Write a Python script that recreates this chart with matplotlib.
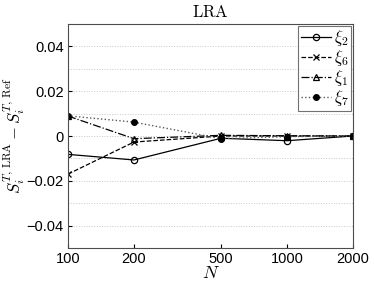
import numpy as np
import matplotlib
matplotlib.use("Agg")
from matplotlib import pyplot as plt

matplotlib.rcParams['font.family'] = ['Liberation Sans', 'DejaVu Sans']
matplotlib.rcParams['mathtext.fontset'] = 'cm'

N = [100, 200, 500, 1000, 2000]
xi2 = [-0.0082, -0.0107, -0.0010, -0.0021, 0.0]
xi6 = [-0.0170, -0.0027, 0.0000, 0.0000, 0.0]
xi1 = [0.0089, -0.0012, 0.0003, 0.0001, 0.0]
xi7 = [0.0090, 0.0062, -0.0012, -0.0003, 0.0]

fig = plt.figure(figsize=(3.74, 2.83), dpi=100)
ax = fig.add_axes([68/374, 1-248/283, 285/374, 224/283])

ax.plot(N, xi2, '-', color='k', lw=0.9, marker='o', ms=4.5, mfc='none', mew=0.9, label=r'$\xi_2$')
ax.plot(N, xi6, '--', color='k', lw=0.9, marker='x', ms=4.5, mew=0.9, label=r'$\xi_6$')
ax.plot(N, xi1, '-.', color='k', lw=0.9, marker='^', ms=4.5, mfc='none', mew=0.9, label=r'$\xi_1$')
ax.plot(N, xi7, ':', color='0.35', lw=1.0, marker='o', ms=4, mfc='k', mec='k', label=r'$\xi_7$')

ax.set_xscale('log')
ax.set_xlim(100, 2000)
ax.set_xticks(N)
ax.set_xticklabels([str(n) for n in N])
ax.minorticks_off()
ax.set_ylim(-0.05, 0.05)
ax.set_yticks([-0.04, -0.02, 0, 0.02, 0.04])
ax.set_yticklabels(['\u22120.04', '\u22120.02', '0', '0.02', '0.04'])
ax.set_yticks(np.arange(-0.04, 0.041, 0.01), minor=True)
ax.tick_params(which='both', direction='in', labelsize=10.5, length=3, pad=3)
ax.tick_params(which='minor', length=0)
ax.grid(True, axis='y', which='both', linestyle=':', color='0.78', lw=0.7)
for s in ax.spines.values():
    s.set_linewidth(0.8)
    s.set_color('0.3')

ax.set_title(r'$\mathrm{LRA}$', fontsize=12, pad=5)
ax.set_xlabel(r'$N$', fontsize=13, labelpad=-1)
ax.set_ylabel(r'$S_i^{T,\,\mathrm{LRA}} - S_i^{T,\,\mathrm{Ref}}$', fontsize=12, labelpad=0)

leg = ax.legend(loc='upper right', fontsize=12, handlelength=1.8, handletextpad=0.2,
                labelspacing=0.0, borderpad=0.15, borderaxespad=0.1, fancybox=False)
leg.get_frame().set_edgecolor('0.3')
leg.get_frame().set_linewidth(0.8)

fig.savefig('out.png', dpi=100)
